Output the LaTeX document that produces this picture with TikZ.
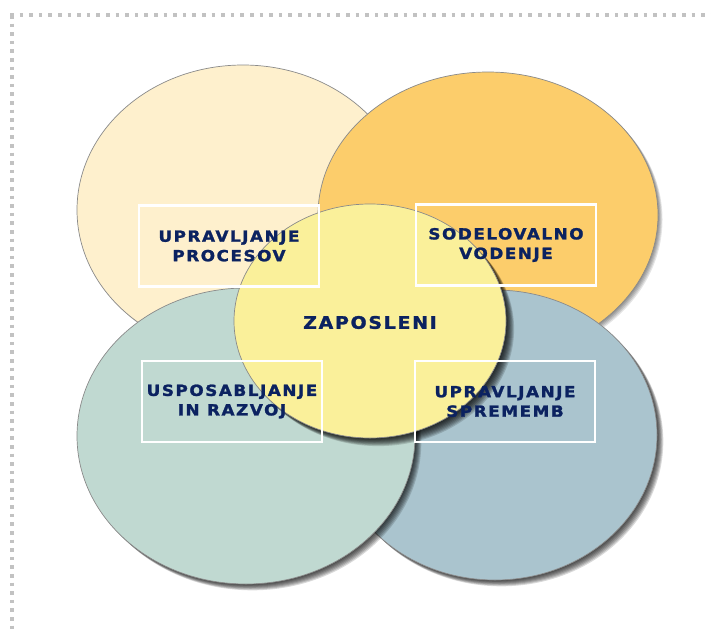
\documentclass[tikz,border=0pt]{standalone}
\usepackage{fontspec}
\newfontfamily\labfont{DejaVu Sans Bold}[LetterSpace=10,FakeStretch=1.1,FakeBold=1.6]
\begin{document}
\definecolor{cream}{HTML}{FEF0CD}
\definecolor{apricot}{HTML}{FCCD6B}
\definecolor{sage}{HTML}{C0D9D1}
\definecolor{steel}{HTML}{AAC4CE}
\definecolor{butter}{HTML}{FAF09A}
\definecolor{navy}{HTML}{0B2260}
\definecolor{dotgray}{HTML}{C2C2C2}
\definecolor{rimgray}{HTML}{8A8A8A}
% soft shadow: stacked translucent copies, offset towards lower right
\newcommand\softshadow[5]{%
  \foreach \k in {1,...,#4}{%
    \fill[black,opacity=#5] ([shift={(\k*0.9,\k*0.9)}]#1) ellipse [x radius=#2pt,y radius=#3pt];}}
\newcommand\blob[4]{%
  \fill[#4] (#1) ellipse [x radius=#2pt,y radius=#3pt];
  \draw[rimgray,line width=0.7pt] (#1) ellipse [x radius=#2pt,y radius=#3pt];}
\begin{tikzpicture}[x=1pt,y=-1pt,
  topic/.style={draw=white,line width=2.4pt,minimum width=180pt,minimum height=81pt,
    inner sep=0pt,align=center,text=navy,
    font=\labfont\fontsize{15.3}{19.5}\selectfont},
  hub/.style={text=navy,inner sep=0pt,font=\labfont\fontsize{17.2}{20}\selectfont}]
\useasboundingbox (0,0) rectangle (711,632);
\fill[white] (0,0) rectangle (711,632);
% dotted frame
\draw[dotgray,line width=3.6pt,dash pattern=on 3.6pt off 6pt] (10,15) -- (711,15);
\draw[dotgray,line width=3.6pt,dash pattern=on 3.6pt off 5pt] (12,15) -- (12,632);
% circles, back to front
\coordinate (ctl) at (243,210);
\coordinate (ctr) at (488,215);
\coordinate (cbr) at (495,435);
\coordinate (cbl) at (246,436);
\coordinate (cmid) at (370,321);
\softshadow{ctl}{166}{145}{4}{0.08}
\blob{ctl}{166}{145}{cream}
\softshadow{ctr}{170}{143}{5}{0.10}
\blob{ctr}{170}{143}{apricot}
\softshadow{cbr}{162}{145}{7}{0.15}
\blob{cbr}{162}{145}{steel}
\softshadow{cbl}{169}{148}{7}{0.15}
\blob{cbl}{169}{148}{sage}
\softshadow{cmid}{136}{117}{9}{0.15}
\blob{cmid}{136}{117}{butter}
% labels
\node[hub] (zap) at (370,322.5) {ZAPOSLENI};
\node[topic] (proc) at (229,246) {UPRAVLJANJE\\PROCESOV};
\node[topic] (sod) at (506,245) {SODELOVALNO\\VODENJE};
\node[topic] (usp) at (232,401.5) {USPOSABLJANJE\\IN RAZVOJ};
\node[topic] (spr) at (505,401.5) {UPRAVLJANJE\\SPREMEMB};
\end{tikzpicture}
\end{document}
